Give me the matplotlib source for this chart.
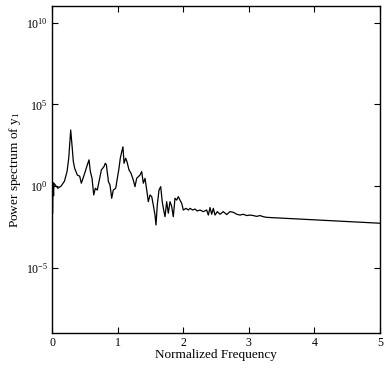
import numpy as np
import matplotlib
matplotlib.use("Agg")
import matplotlib.pyplot as plt

# Normalized frequency and log10 of the power spectrum
freq = [0.0, 0.008, 0.016, 0.024, 0.03, 0.05, 0.09, 0.14, 0.19, 0.23, 0.255, 0.285,
        0.305, 0.325, 0.346, 0.386, 0.422, 0.447, 0.473, 0.508, 0.538, 0.564, 0.584,
        0.61, 0.636, 0.66, 0.69, 0.727, 0.752, 0.793, 0.812, 0.83, 0.84, 0.855, 0.858,
        0.884, 0.91, 0.934, 0.971, 1.0, 1.021, 1.041, 1.063, 1.082, 1.098, 1.123, 1.143,
        1.174, 1.204, 1.239, 1.265, 1.291, 1.316, 1.341, 1.367, 1.392, 1.418, 1.444,
        1.468, 1.494, 1.52, 1.544, 1.57, 1.585, 1.605, 1.631, 1.657, 1.67, 1.68, 1.707,
        1.723, 1.748, 1.773, 1.799, 1.825, 1.849, 1.875, 1.901, 1.925, 1.951, 1.977,
        2.002, 2.043, 2.078, 2.104, 2.145, 2.18, 2.215, 2.256, 2.306, 2.358, 2.383,
        2.409, 2.434, 2.459, 2.485, 2.52, 2.561, 2.611, 2.663, 2.713, 2.764, 2.816,
        2.866, 2.916, 2.968, 3.018, 3.069, 3.12, 3.171, 3.221, 3.273, 5.0]
log_power = [2.1, -1.7, 0.2, -0.6, 0.17, 0.06, -0.14, 0.0, 0.3, 0.9, 1.7, 3.43,
             2.5, 1.5, 1.08, 0.67, 0.6, 0.17, 0.47, 0.9, 1.29, 1.6, 0.9,
             0.47, -0.55, -0.14, -0.25, 0.47, 0.98, 1.19, 1.39, 1.29, 0.9, 0.47, 0.29,
             0.06, -0.75, -0.25, -0.14, 0.57, 1.08, 1.7, 2.1, 2.4, 1.39, 1.7, 1.49,
             0.98, 0.78, 0.37, -0.04, 0.47, 0.57, 0.67, 0.88, 0.17, 0.47, -0.25,
             -0.96, -0.55, -0.65, -1.16, -1.78, -2.39, -1.16, -0.25, -0.04, -0.55, -0.96, -1.57,
             -1.88, -0.96, -1.67, -0.96, -1.26, -1.88, -0.75, -0.86, -0.65, -0.86, -1.06,
             -1.47, -1.37, -1.47, -1.37, -1.47, -1.41, -1.53, -1.47, -1.57, -1.47, -1.78,
             -1.32, -1.73, -1.37, -1.78, -1.57, -1.73, -1.57, -1.75, -1.57, -1.61, -1.73,
             -1.78, -1.73, -1.81, -1.78, -1.81, -1.86, -1.81, -1.88, -1.92, -2.28]

xticks = [0, 1, 2, 3, 4, 5]
yexps = [-5, 0, 5, 10]

plt.rcParams['font.family'] = ['Liberation Serif', 'DejaVu Serif']
plt.rcParams['mathtext.fontset'] = 'custom'
plt.rcParams['mathtext.rm'] = 'Liberation Serif'

fig = plt.figure(figsize=(3.88, 3.70), dpi=100)
ax = fig.add_axes([52/388, 1 - 333/370, (380-52)/388, (333-6)/370])

power = 10.0 ** np.array(log_power)
ax.plot(freq, power, color='black', lw=0.9)
ax.set_yscale('log')
ax.set_xlim(0, 5)
ax.set_ylim(10**-9.0, 10**11.02)
ax.set_xticks(xticks)
ax.set_xticklabels([str(t) for t in xticks], fontsize=8.5)
ax.set_yticks([10.0**e for e in yexps])
ax.set_yticklabels([r'$\mathregular{10^{%d}}$' % e for e in yexps], fontsize=8.5)
ax.yaxis.set_minor_locator(matplotlib.ticker.NullLocator())
ax.tick_params(direction='in', length=4, width=0.8, top=True, right=True, pad=3)
for s in ax.spines.values():
    s.set_linewidth(1.0)
ax.set_xlabel('Normalized Frequency', fontsize=9.5, labelpad=0)
ax.set_ylabel(r'Power spectrum of y$\mathregular{_1}$', fontsize=9.5, labelpad=2)

fig.savefig('out.png', dpi=100)
